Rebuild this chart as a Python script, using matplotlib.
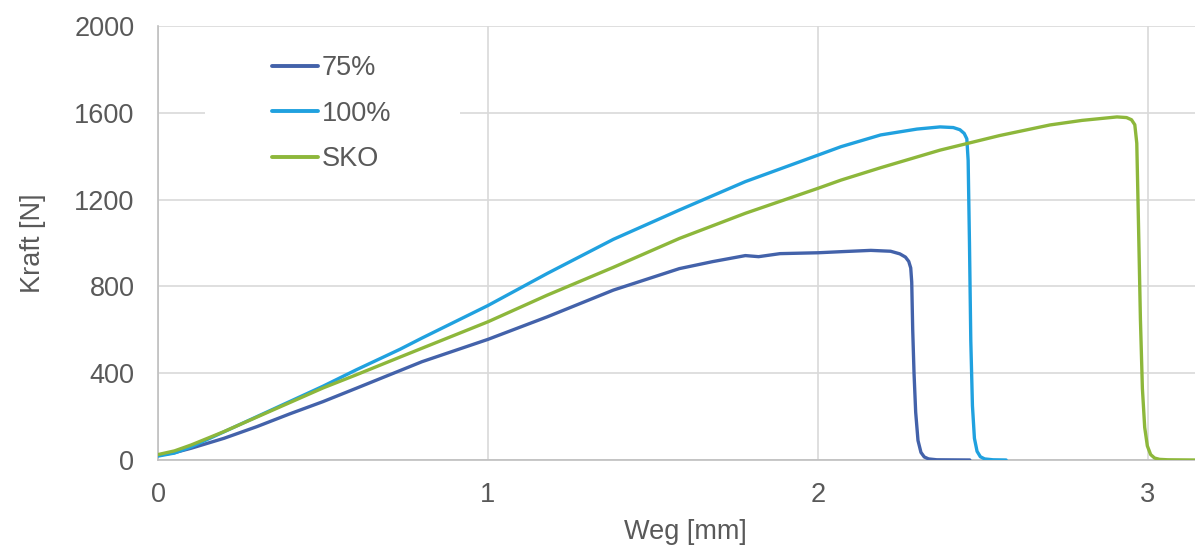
import matplotlib
matplotlib.use("Agg")
import matplotlib.pyplot as plt
from matplotlib.patches import Rectangle

# Weg [mm] / Kraft [N]
weg_75 = [0, 0.05, 0.1, 0.2, 0.3, 0.4, 0.5, 0.6, 0.8, 1.0, 1.18, 1.38, 1.58,
          1.68, 1.78, 1.82, 1.885, 2.0, 2.07, 2.16, 2.22, 2.248, 2.265, 2.275,
          2.281, 2.284, 2.287, 2.291, 2.296, 2.303, 2.312, 2.322, 2.335, 2.36, 2.46]
kraft_75 = [22, 34, 54, 100, 154, 213, 269, 330, 453, 556, 660, 783, 882,
            914, 942, 937, 951, 955, 960, 966, 962, 950, 935, 915,
            885, 820, 600, 400, 220, 90, 35, 14, 5, 1, 0]

weg_100 = [0, 0.05, 0.1, 0.2, 0.3, 0.4, 0.5, 0.6, 0.733, 0.8, 1.0, 1.18, 1.38,
           1.58, 1.78, 2.0, 2.07, 2.19, 2.3, 2.37, 2.41, 2.43, 2.443, 2.451,
           2.455, 2.459, 2.463, 2.468, 2.474, 2.482, 2.492, 2.505, 2.53, 2.57]
kraft_100 = [18, 32, 60, 130, 200, 270, 340, 415, 510, 562, 712, 860, 1017,
             1152, 1283, 1405, 1444, 1498, 1525, 1535, 1532, 1522, 1505, 1480,
             1380, 1000, 550, 250, 100, 40, 15, 5, 1, 0]

weg_sko = [0, 0.05, 0.1, 0.2, 0.3, 0.4, 0.5, 0.6, 0.733, 0.8, 1.0, 1.18, 1.38,
           1.58, 1.78, 2.0, 2.07, 2.19, 2.37, 2.55, 2.703, 2.8, 2.906,
           2.935, 2.95, 2.96, 2.966, 2.971, 2.977, 2.983, 2.99, 2.998, 3.008,
           3.02, 3.035, 3.06, 3.142]
kraft_sko = [25, 42, 69, 131, 198, 265, 332, 392, 474, 515, 637, 760, 888,
             1021, 1137, 1252, 1290, 1347, 1428, 1495, 1544, 1565, 1581,
             1578, 1568, 1545, 1460, 1100, 650, 330, 150, 65, 25,
             9, 3, 1, 0]

labels = ["75%", "100%", "SKO"]
colors = ["#4362AA", "#20A1DF", "#8DB73B"]

plt.rcParams["font.family"] = ["Liberation Sans", "DejaVu Sans"]
fs = 19.5

fig = plt.figure(figsize=(11.95, 5.49), dpi=100)
ax = fig.add_axes([158 / 1195, 1 - 460 / 549, 1037 / 1195, 434 / 549])

ax.plot(weg_75, kraft_75, color=colors[0], lw=2.4, label=labels[0],
        solid_capstyle="round", solid_joinstyle="round", zorder=3)
ax.plot(weg_100, kraft_100, color=colors[1], lw=2.4, label=labels[1],
        solid_capstyle="round", solid_joinstyle="round", zorder=3)
ax.plot(weg_sko, kraft_sko, color=colors[2], lw=2.4, label=labels[2],
        solid_capstyle="round", solid_joinstyle="round", zorder=3)

ax.set_xlim(0, 1037 / 330)
ax.set_ylim(0, 2000)
ax.set_xticks([0, 1, 2, 3])
ax.set_yticks([0, 400, 800, 1200, 1600, 2000])

ax.set_axisbelow(True)
ax.grid(True, color="#D9D9D9", lw=1.2)
for s in ["top", "right"]:
    ax.spines[s].set_visible(False)
for s in ["left", "bottom"]:
    ax.spines[s].set_color("#BFBFBF")
    ax.spines[s].set_linewidth(1.2)
ax.tick_params(length=0, labelsize=fs, labelcolor="#595959")
ax.tick_params(axis="y", pad=17)
ax.tick_params(axis="x", pad=16)

ax.set_xlabel("Weg [mm]", fontsize=fs, color="#595959")
ax.set_ylabel("Kraft [N]", fontsize=fs, color="#595959")
ax.xaxis.set_label_coords(527 / 1037, -0.137)
ax.yaxis.set_label_coords(-112 / 1037, 0.5)

# white box behind the legend, hides the gridline like in the original
ax.add_patch(Rectangle((47 / 1037, 0.63), 255 / 1037, 0.36, transform=ax.transAxes,
                       facecolor="white", edgecolor="none", zorder=1))

leg = ax.legend(loc="upper left", bbox_to_anchor=(114 / 1037, 0.933), frameon=False,
                fontsize=fs, handlelength=1.7, handletextpad=0.15,
                labelspacing=0.72, borderpad=0, borderaxespad=0)
for t in leg.get_texts():
    t.set_color("#595959")
for h in leg.legend_handles:
    h.set_linewidth(2.8)

fig.savefig("out.png", dpi=100)
